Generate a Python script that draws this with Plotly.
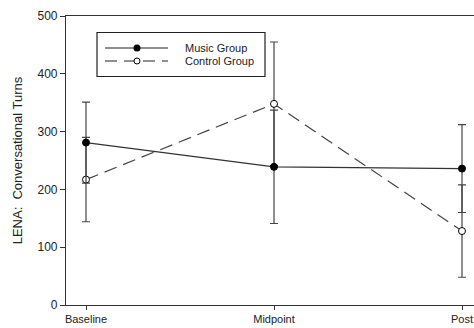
import plotly.graph_objects as go

categories = ["Baseline", "Midpoint", "Post"]
music_mean = [281, 239, 236]
music_err = [70, 98, 76]
control_mean = [217, 348, 128]
control_err = [73, 107, 80]
y_ticks = [0, 100, 200, 300, 400, 500]

xpos = list(range(len(categories)))
W, H = 474, 328
L, R, T, B = 66, 0, 16, 23

fig = go.Figure()
fig.add_trace(go.Scatter(
    x=xpos, y=control_mean, mode="lines+markers", name="Control Group",
    line=dict(color="#444444", width=1.2, dash="13px,7px"),
    marker=dict(symbol="circle", size=7, color="white", line=dict(color="black", width=1)),
    error_y=dict(type="data", array=control_err, visible=True, color="#444444", thickness=1.2, width=4),
    showlegend=False,
))
fig.add_trace(go.Scatter(
    x=xpos, y=music_mean, mode="lines+markers", name="Music Group",
    line=dict(color="#333333", width=1.2),
    marker=dict(symbol="circle", size=7, color="black", line=dict(color="black", width=1)),
    error_y=dict(type="data", array=music_err, visible=True, color="#444444", thickness=1.2, width=4),
    showlegend=False,
))

# manual legend (pixel overlay axes)
fig.add_trace(go.Scatter(x=[105, 168], y=[48, 48], mode="lines", line=dict(color="#222222", width=1.2),
                         xaxis="x2", yaxis="y2", showlegend=False, hoverinfo="skip"))
fig.add_trace(go.Scatter(x=[137], y=[48], mode="markers", marker=dict(size=7, color="black"),
                         xaxis="x2", yaxis="y2", showlegend=False, hoverinfo="skip"))
fig.add_trace(go.Scatter(x=[105, 168], y=[61, 61], mode="lines", line=dict(color="#222222", width=1.2, dash="12px,7px"),
                         xaxis="x2", yaxis="y2", showlegend=False, hoverinfo="skip"))
fig.add_trace(go.Scatter(x=[137], y=[61], mode="markers",
                         marker=dict(size=6, color="white", line=dict(color="black", width=1)),
                         xaxis="x2", yaxis="y2", showlegend=False, hoverinfo="skip"))

fig.add_shape(type="rect", xref="x2", yref="y2", x0=97, x1=265, y0=32.5, y1=76.5,
              line=dict(color="#222222", width=1.2), fillcolor="rgba(0,0,0,0)", layer="below")
for txt, yy in [("Music Group", 48), ("Control Group", 61)]:
    fig.add_annotation(x=183, y=yy, xref="x2", yref="y2", text=txt, showarrow=False,
                       xanchor="left", yanchor="middle",
                       font=dict(family="Liberation Sans, Arial", size=11, color="#222222"))

fig.update_layout(
    width=W, height=H,
    margin=dict(l=L, r=R, t=T, b=B),
    paper_bgcolor="white", plot_bgcolor="white",
    font=dict(family="Liberation Sans, Arial", size=11, color="#222222"),
    xaxis=dict(
        range=[-0.1064, 2.0638], tickvals=xpos, ticktext=categories,
        showgrid=False, zeroline=False, showline=True, linecolor="#333333", linewidth=1.2,
        mirror=True, ticks="outside", ticklen=4, tickcolor="#333333", tickwidth=1,
        tickfont=dict(size=11, color="#222222"), automargin=False,
    ),
    yaxis=dict(
        range=[0, 500], tickvals=y_ticks, showgrid=False, zeroline=False,
        showline=True, linecolor="#333333", linewidth=1.2,
        ticks="outside", ticklen=5, tickcolor="#333333", tickwidth=1,
        tickfont=dict(size=12, color="#222222"), automargin=False,
        title=dict(text="LENA:\u00a0\u00a0Conversational Turns", font=dict(size=13, color="#222222"), standoff=11),
    ),
    xaxis2=dict(domain=[0, 1], range=[L, W], visible=False, overlaying="x", fixedrange=True),
    yaxis2=dict(domain=[0, 1], range=[H - B, T], visible=False, overlaying="y", fixedrange=True),
)

fig.write_html("out.html", config={"displayModeBar": False},
               post_script="document.body.style.margin='0px';document.body.style.overflow='hidden';")
